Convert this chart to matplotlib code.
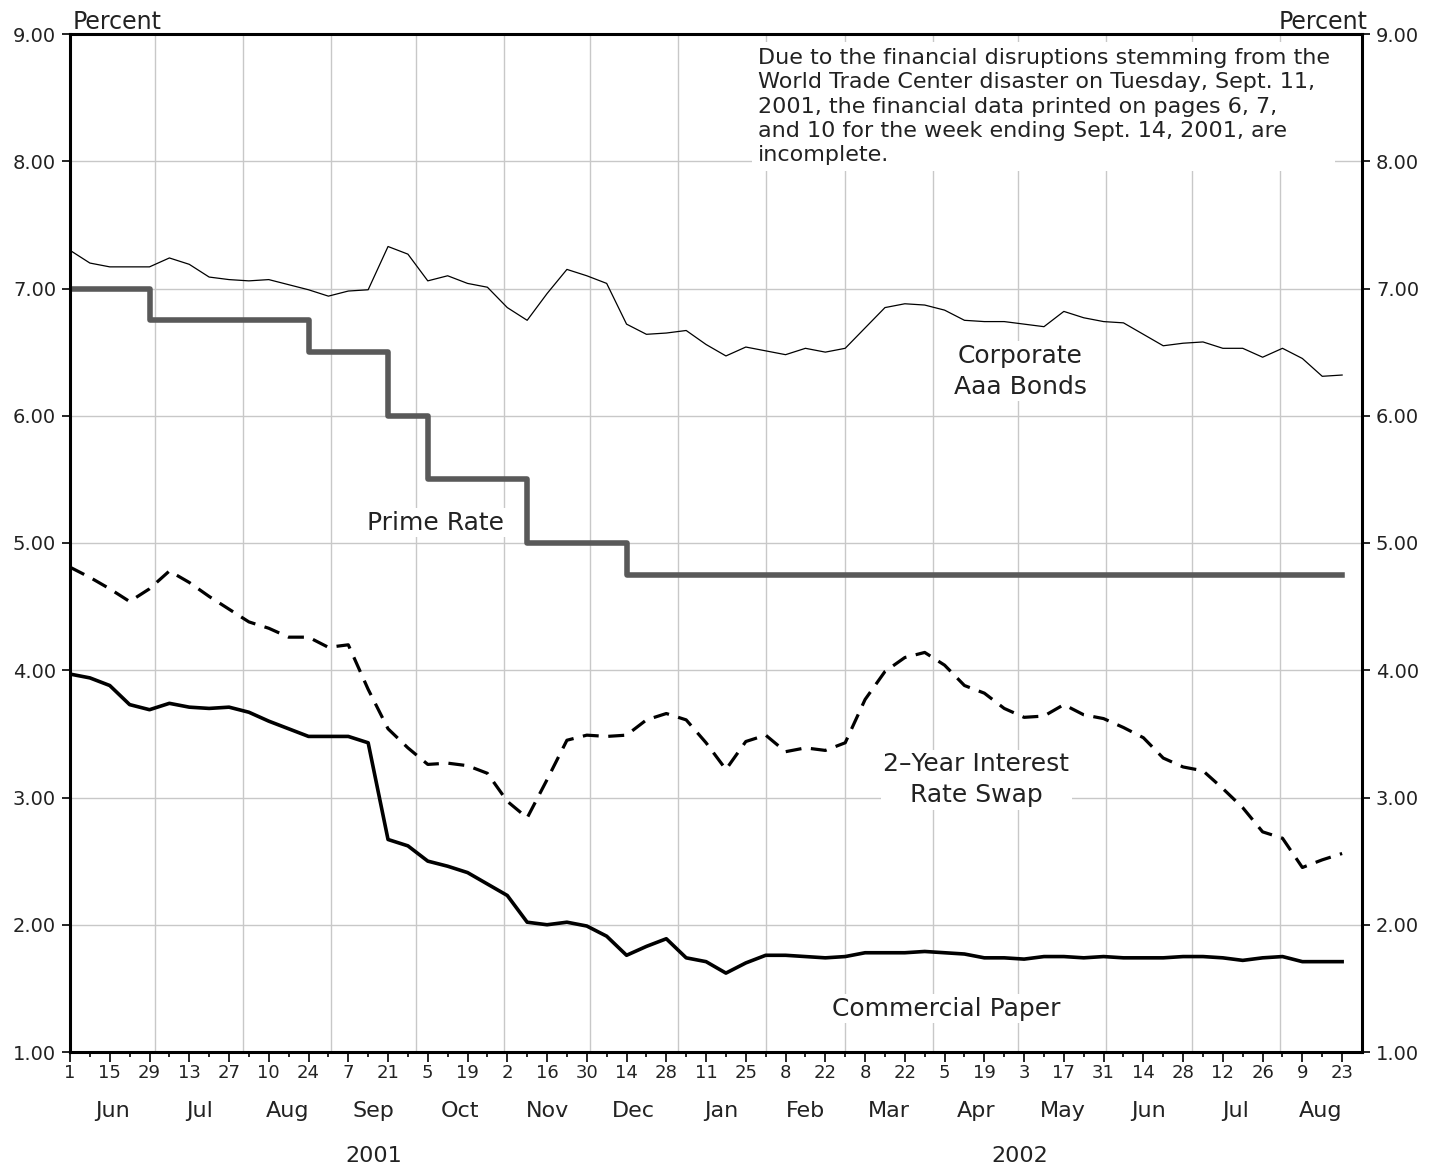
import datetime as dt
import numpy as np
import matplotlib
matplotlib.use("Agg")
import matplotlib.pyplot as plt
import matplotlib.transforms as mtransforms

# weekly series, weeks ending Fri Jun 1 2001 .. Fri Aug 23 2002
start = dt.date(2001, 6, 1)
n_weeks = 65

aaa = [7.30, 7.20, 7.17, 7.17, 7.17, 7.24, 7.19, 7.09, 7.07, 7.06,
       7.07, 7.03, 6.99, 6.94, 6.98, 6.99, 7.33, 7.27, 7.06, 7.10,
       7.04, 7.01, 6.85, 6.75, 6.96, 7.15, 7.10, 7.04, 6.72, 6.64,
       6.65, 6.67, 6.56, 6.47, 6.54, 6.51, 6.48, 6.53, 6.50, 6.53,
       6.69, 6.85, 6.88, 6.87, 6.83, 6.75, 6.74, 6.74, 6.72, 6.70,
       6.82, 6.77, 6.74, 6.73, 6.64, 6.55, 6.57, 6.58, 6.53, 6.53,
       6.46, 6.53, 6.45, 6.31, 6.32]

prime = [7.00, 7.00, 7.00, 7.00, 6.75, 6.75, 6.75, 6.75, 6.75, 6.75,
         6.75, 6.75, 6.50, 6.50, 6.50, 6.50, 6.00, 6.00, 5.50, 5.50,
         5.50, 5.50, 5.50, 5.00, 5.00, 5.00, 5.00, 5.00, 4.75, 4.75,
         4.75, 4.75, 4.75, 4.75, 4.75, 4.75, 4.75, 4.75, 4.75, 4.75,
         4.75, 4.75, 4.75, 4.75, 4.75, 4.75, 4.75, 4.75, 4.75, 4.75,
         4.75, 4.75, 4.75, 4.75, 4.75, 4.75, 4.75, 4.75, 4.75, 4.75,
         4.75, 4.75, 4.75, 4.75, 4.75]

swap = [4.81, 4.73, 4.64, 4.54, 4.64, 4.78, 4.69, 4.58, 4.48, 4.38,
        4.33, 4.26, 4.26, 4.18, 4.20, 3.85, 3.54, 3.39, 3.26, 3.27,
        3.25, 3.19, 2.97, 2.84, 3.14, 3.45, 3.49, 3.48, 3.49, 3.61,
        3.66, 3.61, 3.43, 3.22, 3.44, 3.49, 3.36, 3.39, 3.37, 3.43,
        3.77, 3.99, 4.10, 4.14, 4.04, 3.88, 3.82, 3.70, 3.63, 3.64,
        3.73, 3.65, 3.62, 3.55, 3.47, 3.31, 3.24, 3.21, 3.07, 2.92,
        2.73, 2.68, 2.45, 2.51, 2.56]

cp = [3.97, 3.94, 3.88, 3.73, 3.69, 3.74, 3.71, 3.70, 3.71, 3.67,
      3.60, 3.54, 3.48, 3.48, 3.48, 3.43, 2.67, 2.62, 2.50, 2.46,
      2.41, 2.32, 2.23, 2.02, 2.00, 2.02, 1.99, 1.91, 1.76, 1.83,
      1.89, 1.74, 1.71, 1.62, 1.70, 1.76, 1.76, 1.75, 1.74, 1.75,
      1.78, 1.78, 1.78, 1.79, 1.78, 1.77, 1.74, 1.74, 1.73, 1.75,
      1.75, 1.74, 1.75, 1.74, 1.74, 1.74, 1.75, 1.75, 1.74, 1.72,
      1.74, 1.75, 1.71, 1.71, 1.71]

day_labels = ['1', '15', '29', '13', '27', '10', '24', '7', '21', '5', '19',
              '2', '16', '30', '14', '28', '11', '25', '8', '22', '8', '22',
              '5', '19', '3', '17', '31', '14', '28', '12', '26', '9', '23']
month_labels = ['Jun', 'Jul', 'Aug', 'Sep', 'Oct', 'Nov', 'Dec', 'Jan',
                'Feb', 'Mar', 'Apr', 'May', 'Jun', 'Jul', 'Aug']
year_labels = ['2001', '2002']

note = ("Due to the financial disruptions stemming from the\n"
        "World Trade Center disaster on Tuesday, Sept. 11,\n"
        "2001, the financial data printed on pages 6, 7,\n"
        "and 10 for the week ending Sept. 14, 2001, are\n"
        "incomplete.")

txt = '#222222'
grid_c = '#c8c8c8'


def wk(d):
    # position of a date in weeks from the first observation
    return (d - start).days / 7.0


x = np.arange(n_weeks)
x_max = 65

fig = plt.figure(figsize=(14.47, 11.66), dpi=100)
ax = fig.add_axes([70 / 1447, 1 - 1052 / 1166, 1292 / 1447, 1018 / 1166])

ax.set_xlim(0, x_max)
ax.set_ylim(1, 9)

# gridlines: horizontal on the y ticks, vertical at month starts
ax.set_yticks(np.arange(1, 10))
ax.yaxis.grid(True, color=grid_c, lw=1.0, zorder=0)
months = []
y, m = 2001, 6
while True:
    d = dt.date(y, m, 1)
    if wk(d) > x_max:
        break
    months.append(d)
    m += 1
    if m > 12:
        m, y = 1, y + 1
for d in months[1:]:
    ax.axvline(wk(d), color=grid_c, lw=1.0, zorder=0)

ax.plot(x, aaa, color='black', lw=0.9, zorder=2)
ax.plot(x, prime, color='#595959', lw=4.0, drawstyle='steps-post', zorder=2)
ax.plot(x, swap, color='black', lw=2.3, dashes=(5, 3), zorder=2)
ax.plot(x, cp, color='black', lw=2.6, zorder=2)

# axes styling
for s in ax.spines.values():
    s.set_linewidth(2.2)
    s.set_color('black')

ax.yaxis.set_major_formatter(matplotlib.ticker.FormatStrFormatter('%.2f'))
ax.tick_params(axis='y', which='both', left=True, right=True,
               labelleft=True, labelright=True, direction='out',
               length=6, width=1.2, labelsize=14, labelcolor=txt, pad=4)

ax.set_xticks(x[::2])
ax.set_xticklabels(day_labels)
ax.set_xticks(x[1::2], minor=True)
ax.tick_params(axis='x', which='major', direction='out', length=7,
               width=1.2, labelsize=13, labelcolor=txt, pad=2)
ax.tick_params(axis='x', which='minor', direction='out', length=3.6,
               width=1.2)

# month and year labels below the axis
trans = mtransforms.blended_transform_factory(ax.transData, ax.transAxes)
bounds = [wk(d) for d in months] + [x_max]
for i, lab in enumerate(month_labels):
    mid = (bounds[i] + min(bounds[i + 1], x_max)) / 2
    ax.text(mid, -0.064, lab, transform=trans, ha='center', va='baseline',
            fontsize=16, color=txt)

jan = wk(dt.date(2002, 1, 1))
for lab, (a, b) in zip(year_labels, [(0, jan), (jan, x_max)]):
    ax.text((a + b) / 2, -0.108, lab, transform=trans, ha='center',
            va='baseline', fontsize=16, color=txt)

fig.text(73 / 1447, 1 - 29 / 1166, 'Percent', ha='left', va='baseline',
         fontsize=17, color=txt)
fig.text(1368 / 1447, 1 - 29 / 1166, 'Percent', ha='right', va='baseline',
         fontsize=17, color=txt)

# series labels
box = dict(fc='white', ec='none', pad=2)
ax.text(18.4, 5.16, 'Prime Rate', ha='center', va='center', fontsize=18,
        color=txt, bbox=box, zorder=3)
ax.text(47.8, 6.35, 'Corporate\nAaa Bonds', ha='center', va='center',
        fontsize=18, color=txt, linespacing=1.35, bbox=box, zorder=3)
ax.text(45.6, 3.14, '2\u2013Year Interest\nRate Swap', ha='center',
        va='center', fontsize=18, color=txt, linespacing=1.35, bbox=box,
        zorder=3)
ax.text(44.1, 1.34, 'Commercial Paper', ha='center', va='center',
        fontsize=18, color=txt, bbox=box, zorder=3)

ax.text(34.6, 8.89, note, ha='left', va='top', fontsize=16, color=txt,
        linespacing=1.27, bbox=dict(fc='white', ec='none', pad=4), zorder=3)

fig.savefig('out.png', dpi=100, facecolor='white')
